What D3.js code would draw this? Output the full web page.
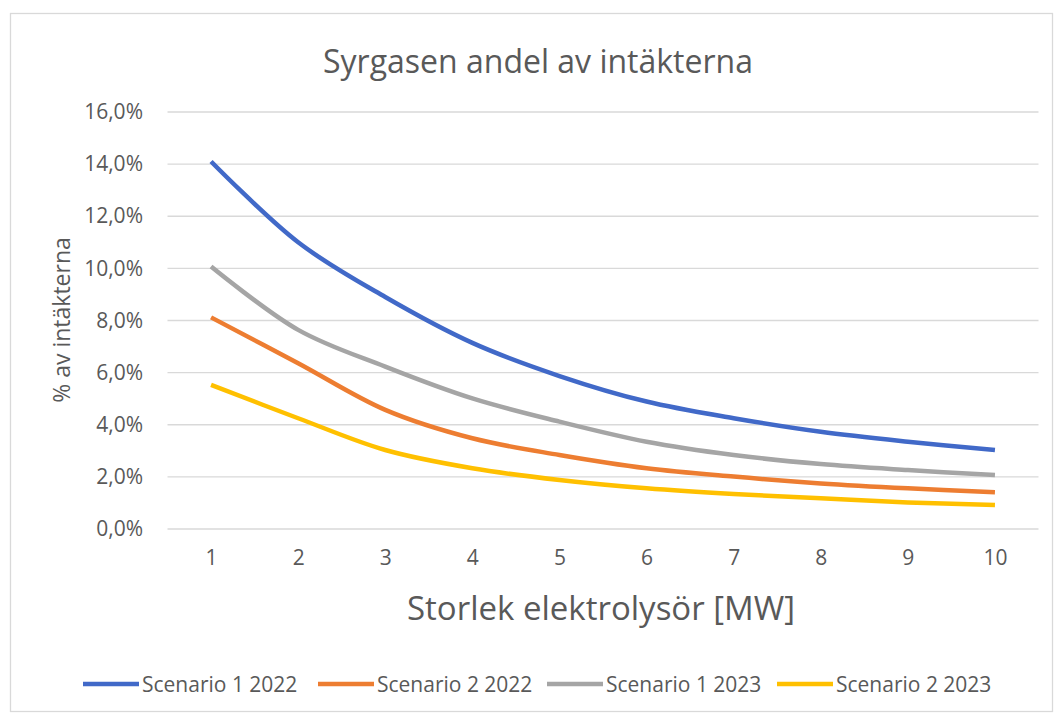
<!DOCTYPE html>
<html>
<head>
<meta charset="utf-8">
<script src="https://cdn.jsdelivr.net/npm/d3@7"></script>
<style>
  body { margin: 0; background: #fff; }
  text { font-family: "Open Sans", sans-serif; fill: #595959; }
</style>
</head>
<body>
<script>
var width = 1054;
var height = 715;

// data
var sizes = [1, 2, 3, 4, 5, 6, 7, 8, 9, 10];
var yTicks = [0, 0.02, 0.04, 0.06, 0.08, 0.10, 0.12, 0.14, 0.16];
var seriesNames = ["Scenario 1 2022", "Scenario 2 2022", "Scenario 1 2023", "Scenario 2 2023"];
var scen1_2022 = [0.141, 0.110, 0.089, 0.0714, 0.0587, 0.0489, 0.0425, 0.0373, 0.0335, 0.0303];
var scen2_2022 = [0.0812, 0.0636, 0.0457, 0.0348, 0.0284, 0.0233, 0.0201, 0.0175, 0.0156, 0.0141];
var scen1_2023 = [0.1007, 0.0764, 0.0623, 0.0501, 0.0412, 0.0335, 0.0284, 0.0249, 0.0226, 0.0207];
var scen2_2023 = [0.0553, 0.0425, 0.0303, 0.0233, 0.0188, 0.0156, 0.0134, 0.0118, 0.0102, 0.0092];
var colors = ["#4169c8", "#ed7d31", "#a5a5a5", "#ffc000"];

var allSeries = [scen1_2022, scen2_2022, scen1_2023, scen2_2023];

var svg = d3.select("body").append("svg")
  .attr("width", width)
  .attr("height", height);

// chart border
svg.append("rect")
  .attr("x", 10.5).attr("y", 13.5)
  .attr("width", 1042).attr("height", 698)
  .attr("fill", "#fff")
  .attr("stroke", "#d9d9d9")
  .attr("stroke-width", 1.3);

var x = d3.scalePoint()
  .domain(sizes)
  .range([167.5, 1038.5])
  .padding(0.5);

var y = d3.scaleLinear()
  .domain([0, 0.16])
  .range([529, 112]);

var pct = function (d) { return d3.format(".1f")(d * 100).replace(".", ",") + "%"; };

// gridlines
svg.append("g")
  .selectAll("line")
  .data(yTicks)
  .enter().append("line")
  .attr("x1", 167.5).attr("x2", 1038.5)
  .attr("y1", function (d) { return y(d); })
  .attr("y2", function (d) { return y(d); })
  .attr("stroke", "#d9d9d9")
  .attr("stroke-width", 1.3);

// y axis labels
var yAxis = svg.append("g")
  .attr("transform", "translate(150,0)")
  .call(d3.axisLeft(y).tickValues(yTicks).tickFormat(pct).tickSize(0).tickPadding(7));
yAxis.select(".domain").remove();
yAxis.selectAll("text")
  .style("font-size", "21px")
  .style("font-family", "Open Sans, sans-serif")
  .attr("fill", "#595959");

// x axis labels
var xAxis = svg.append("g")
  .attr("transform", "translate(0,538)")
  .call(d3.axisBottom(x).tickSize(0).tickPadding(12));
xAxis.select(".domain").remove();
xAxis.selectAll("text")
  .style("font-size", "21px")
  .style("font-family", "Open Sans, sans-serif")
  .attr("fill", "#595959");

var line = d3.line()
  .x(function (d, i) { return x(sizes[i]); })
  .y(function (d) { return y(d); })
  .curve(d3.curveCatmullRom.alpha(0.5));

svg.append("g")
  .selectAll("path")
  .data(allSeries)
  .enter().append("path")
  .attr("d", line)
  .attr("fill", "none")
  .attr("stroke", function (d, i) { return colors[i]; })
  .attr("stroke-width", 4.5)
  .attr("stroke-linejoin", "round");

// title
svg.append("text")
  .attr("x", 538).attr("y", 60)
  .attr("text-anchor", "middle")
  .attr("dominant-baseline", "central")
  .style("font-size", "32px")
  .text("Syrgasen andel av intäkterna");

// x axis title
svg.append("text")
  .attr("x", 601).attr("y", 607)
  .attr("text-anchor", "middle")
  .attr("dominant-baseline", "central")
  .style("font-size", "33px")
  .text("Storlek elektrolysör [MW]");

// y axis title
svg.append("text")
  .attr("transform", "translate(61,320) rotate(-90)")
  .attr("text-anchor", "middle")
  .attr("dominant-baseline", "central")
  .style("font-size", "23px")
  .text("% av intäkterna");

// legend
var legendX = [83, 318, 547, 777];
var legend = svg.append("g")
  .selectAll("g")
  .data(seriesNames)
  .enter().append("g")
  .attr("transform", function (d, i) { return "translate(" + legendX[i] + ",684)"; });

legend.append("line")
  .attr("x1", 0).attr("x2", 56)
  .attr("y1", 0).attr("y2", 0)
  .attr("stroke", function (d, i) { return colors[i]; })
  .attr("stroke-width", 4.5);

legend.append("text")
  .attr("x", 59).attr("y", 0)
  .attr("dominant-baseline", "central")
  .style("font-size", "21px")
  .text(function (d) { return d; });
</script>
</body>
</html>
